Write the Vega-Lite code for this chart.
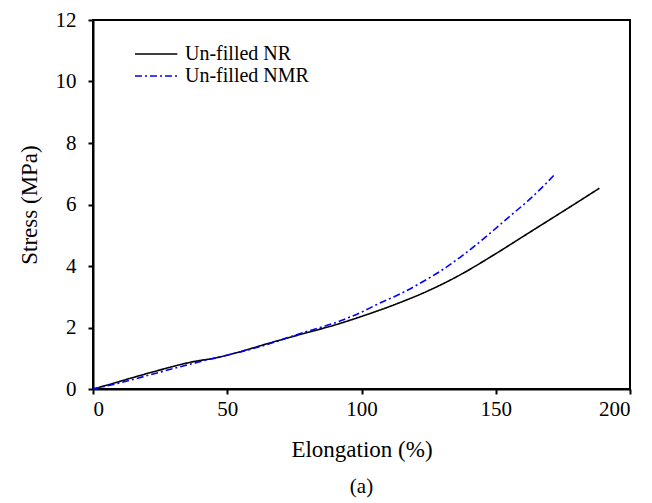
{
  "$schema": "https://vega.github.io/schema/vega-lite/v6.json",
  "autosize": {"type": "none"},
  "width": 537,
  "height": 369,
  "padding": {"left": 93, "top": 20, "right": 22, "bottom": 114},
  "background": "white",
  "config": {
    "font": "Liberation Serif",
    "view": {"stroke": "black", "strokeWidth": 2},
    "axis": {
      "grid": false,
      "domainColor": "black",
      "domainWidth": 2,
      "tickColor": "black",
      "tickWidth": 2,
      "tickSize": 5,
      "labelFont": "Liberation Serif",
      "labelFontSize": 21,
      "labelColor": "black",
      "titleFont": "Liberation Serif",
      "titleFontSize": 23,
      "titleFontWeight": "normal",
      "titleColor": "black"
    }
  },
  "title": {
    "text": "(a)",
    "orient": "bottom",
    "font": "Liberation Serif",
    "fontSize": 21,
    "fontWeight": "normal",
    "color": "black",
    "offset": 15
  },
  "data": {
    "values": [
      {"series": "Un-filled NR", "elong": 0, "stress": 0},
      {"series": "Un-filled NR", "elong": 5, "stress": 0.12},
      {"series": "Un-filled NR", "elong": 14, "stress": 0.35},
      {"series": "Un-filled NR", "elong": 25, "stress": 0.62},
      {"series": "Un-filled NR", "elong": 38, "stress": 0.9},
      {"series": "Un-filled NR", "elong": 45, "stress": 1.0},
      {"series": "Un-filled NR", "elong": 50, "stress": 1.1},
      {"series": "Un-filled NR", "elong": 66, "stress": 1.5},
      {"series": "Un-filled NR", "elong": 77, "stress": 1.77},
      {"series": "Un-filled NR", "elong": 90, "stress": 2.08},
      {"series": "Un-filled NR", "elong": 100, "stress": 2.36},
      {"series": "Un-filled NR", "elong": 114, "stress": 2.8},
      {"series": "Un-filled NR", "elong": 125, "stress": 3.2},
      {"series": "Un-filled NR", "elong": 135, "stress": 3.63},
      {"series": "Un-filled NR", "elong": 150, "stress": 4.4},
      {"series": "Un-filled NR", "elong": 160, "stress": 4.95},
      {"series": "Un-filled NR", "elong": 170, "stress": 5.5},
      {"series": "Un-filled NR", "elong": 180, "stress": 6.05},
      {"series": "Un-filled NR", "elong": 188.6, "stress": 6.53},
      {"series": "Un-filled NMR", "elong": 0, "stress": 0},
      {"series": "Un-filled NMR", "elong": 10, "stress": 0.2},
      {"series": "Un-filled NMR", "elong": 25, "stress": 0.55},
      {"series": "Un-filled NMR", "elong": 38, "stress": 0.85},
      {"series": "Un-filled NMR", "elong": 50, "stress": 1.1},
      {"series": "Un-filled NMR", "elong": 65, "stress": 1.45},
      {"series": "Un-filled NMR", "elong": 77, "stress": 1.8},
      {"series": "Un-filled NMR", "elong": 90, "stress": 2.15},
      {"series": "Un-filled NMR", "elong": 100, "stress": 2.5},
      {"series": "Un-filled NMR", "elong": 106, "stress": 2.76},
      {"series": "Un-filled NMR", "elong": 115, "stress": 3.12},
      {"series": "Un-filled NMR", "elong": 125, "stress": 3.6},
      {"series": "Un-filled NMR", "elong": 130, "stress": 3.87},
      {"series": "Un-filled NMR", "elong": 137, "stress": 4.3},
      {"series": "Un-filled NMR", "elong": 147, "stress": 5.0},
      {"series": "Un-filled NMR", "elong": 155, "stress": 5.6},
      {"series": "Un-filled NMR", "elong": 163, "stress": 6.2},
      {"series": "Un-filled NMR", "elong": 168, "stress": 6.62},
      {"series": "Un-filled NMR", "elong": 172, "stress": 6.98}
    ]
  },
  "mark": {"type": "line", "strokeWidth": 1.6, "interpolate": "monotone"},
  "encoding": {
    "x": {
      "field": "elong",
      "type": "quantitative",
      "scale": {"domain": [0, 200], "nice": false},
      "axis": {"values": [0, 50, 100, 150, 200], "title": "Elongation (%)", "labelPadding": 4, "titlePadding": 19}
    },
    "y": {
      "field": "stress",
      "type": "quantitative",
      "scale": {"domain": [0, 12], "nice": false},
      "axis": {"values": [0, 2, 4, 6, 8, 10, 12], "title": "Stress (MPa)", "labelPadding": 12, "titlePadding": 14}
    },
    "color": {
      "field": "series",
      "type": "nominal",
      "scale": {"domain": ["Un-filled NR", "Un-filled NMR"], "range": ["#000000", "#0000ff"]},
      "legend": {
        "title": null,
        "orient": "none",
        "legendX": 32,
        "legendY": 24,
        "symbolType": "M0,0H8",
        "symbolSize": 112,
        "symbolStrokeWidth": 1.6,
        "labelFont": "Liberation Serif",
        "labelFontSize": 20,
        "labelColor": "black",
        "labelOffset": 40,
        "rowPadding": 2,
        "padding": 0
      }
    },
    "strokeDash": {
      "field": "series",
      "type": "nominal",
      "scale": {"domain": ["Un-filled NR", "Un-filled NMR"], "range": [[1, 0], [7, 3, 2, 3]]},
      "legend": {
        "title": null,
        "orient": "none",
        "legendX": 32,
        "legendY": 24,
        "symbolType": "M0,0H8",
        "symbolSize": 112,
        "symbolStrokeWidth": 1.6,
        "labelFont": "Liberation Serif",
        "labelFontSize": 20,
        "labelColor": "black",
        "labelOffset": 40,
        "rowPadding": 2,
        "padding": 0
      }
    }
  }
}
